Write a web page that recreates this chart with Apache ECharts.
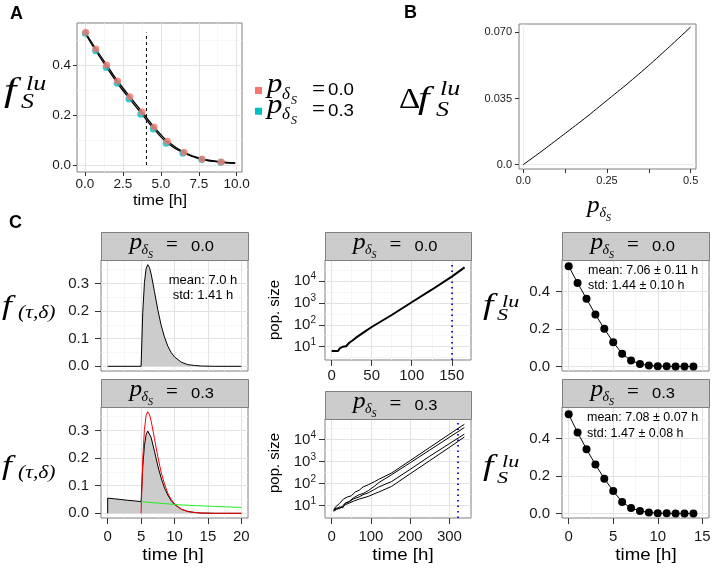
<!DOCTYPE html>
<html><head><meta charset="utf-8">
<script src="https://cdn.jsdelivr.net/npm/echarts@6/dist/echarts.min.js"></script>
<style>html,body{margin:0;padding:0;background:#fff}#c{width:716px;height:570px}</style>
</head><body><div id="c"></div><script>
// ===== DATA =====
// Panel A
const aTimePink = [0.05, 0.72, 1.43, 2.15, 2.96, 3.77, 4.56, 5.44, 6.53, 7.72, 8.99];
const aFracPink = [0.531, 0.464, 0.400, 0.336, 0.273, 0.212, 0.152, 0.095, 0.051, 0.024, 0.012];
const aTimeTeal = [0.02, 0.70, 1.40, 2.12, 2.90, 3.68, 4.50, 5.35, 6.45, 7.70, 8.95];
const aFracTeal = [0.527, 0.457, 0.390, 0.327, 0.264, 0.203, 0.144, 0.087, 0.047, 0.022, 0.011];
const aCurveTime = [0, 0.72, 1.43, 2.15, 2.96, 3.77, 4.56, 5.44, 6.53, 7.72, 8.99, 9.9];
const aCurve1 = [0.533, 0.464, 0.400, 0.336, 0.273, 0.212, 0.152, 0.095, 0.051, 0.024, 0.012, 0.008];
const aCurve2 = [0.527, 0.456, 0.390, 0.326, 0.263, 0.202, 0.143, 0.087, 0.047, 0.022, 0.011, 0.007];
const aCutTime = 4.05, aCutTop = 0.53;
const aXTicks = [0, 2.5, 5, 7.5, 10], aXText = ['0.0', '2.5', '5.0', '7.5', '10.0'];
const aYTicks = [0, 0.2, 0.4], aYText = ['0.0', '0.2', '0.4'];
const legendText = ['0.0', '0.3'];
// Panel B
const bP = [0, 0.0625, 0.125, 0.1875, 0.25, 0.3125, 0.375, 0.4375, 0.5];
const bDelta = [0, 0.0081, 0.0165, 0.025, 0.034, 0.043, 0.0525, 0.0625, 0.0728];
const bXTicks = [0, 0.125, 0.25, 0.375, 0.5];
const bXLabVals = [0, 0.25, 0.5], bXText = ['0.0', '0.25', '0.5'];
const bYTicks = [0, 0.035, 0.07], bYText = ['0.0', '0.035', '0.070'];
// Panel C, column 1 (densities)
const cTime = [0, 5, 5.25, 5.5, 5.75, 6, 6.25, 6.5, 7, 7.5, 8, 8.5, 9, 9.5, 10, 11, 12, 13, 14, 16, 20];
const cDens0 = [0, 0, 0.195, 0.303, 0.354, 0.368, 0.358, 0.335, 0.271, 0.205, 0.149, 0.106, 0.073, 0.050, 0.034, 0.015, 0.006, 0.003, 0.001, 0, 0];
const cTimeMix = [0, 0, 1, 2, 3, 4, 5, 5.25, 5.5, 5.75, 6, 6.25, 6.5, 7, 7.5, 8, 8.5, 9, 9.5, 10, 11, 12, 13, 14, 16, 20];
const cDensMix = [0, 0.055, 0.0525, 0.050, 0.047, 0.045, 0.042, 0.17, 0.245, 0.285, 0.298, 0.293, 0.275, 0.225, 0.172, 0.128, 0.092, 0.066, 0.046, 0.032, 0.015, 0.007, 0.003, 0.001, 0, 0];
const cTimeGreen = [5, 6, 7, 8, 9, 10, 12, 14, 16, 18, 20];
const cDensGreen = [0.042, 0.040, 0.038, 0.036, 0.034, 0.032, 0.029, 0.027, 0.025, 0.023, 0.021];
const c1XTicks = [0, 5, 10, 15, 20];
const c1YTicks = [0, 0.1, 0.2, 0.3], c1YText = ['0.0', '0.1', '0.2', '0.3'];
// Panel C, column 2 (population size)
const popTime0 = [0, 8, 10, 14, 18, 22, 26, 30, 40, 50, 75, 100, 125, 150, 166];
const popSize0 = [6.3, 6.3, 8.3, 10, 10.5, 15, 19, 25, 45, 79, 280, 1070, 4000, 15800, 42000];
const popTimeA = [5, 10, 15, 20, 25, 30, 35, 40, 50, 60, 70, 80, 93, 110, 120, 153, 200, 250, 300, 338];
const popSizeA = [6.3, 8.9, 7.9, 12.6, 11.2, 20, 17.8, 25, 28, 42, 50, 71, 89, 126, 158, 309, 1120, 4470, 17800, 50100];
const popTimeB = [5, 12, 20, 28, 35, 45, 55, 70, 80, 93, 110, 120, 153, 200, 250, 300, 338];
const popSizeB = [6.0, 7.1, 8.9, 7.9, 12.6, 15.8, 22.4, 31.6, 35.5, 47.9, 79.4, 112, 257, 891, 3390, 12900, 35500];
const popSizeC = [6.3, 7.9, 7.1, 10, 13.2, 15.1, 20, 25.1, 31.6, 38, 56.2, 70.8, 126, 447, 1780, 6610, 17800];
const popSizeD = [5.6, 6.6, 7.9, 8.9, 11.2, 13.2, 15.8, 20, 22.4, 26.3, 35.5, 41.7, 75.9, 282, 1120, 4470, 13200];
const popStop0 = 150, popStop3 = 321;
const c2YTicks = [1, 2, 3, 4];
const c2XTicks0 = [0, 50, 100, 150], c2XTicks3 = [0, 100, 200, 300];
// Panel C, column 3 (simulated f_S^lu)
const c3Time = [0, 1, 2, 3, 4, 5, 6, 7, 8, 9, 10, 11, 12, 13, 14];
const c3Frac0 = [0.535, 0.446, 0.361, 0.277, 0.201, 0.130, 0.068, 0.032, 0.014, 0.005, 0.002, 0.001, 0, 0, 0];
const c3Frac3 = [0.529, 0.432, 0.343, 0.261, 0.186, 0.120, 0.061, 0.029, 0.014, 0.005, 0.002, 0.001, 0, 0, 0];
const c3XTicks = [0, 5, 10, 15];
const c3YTicks = [0, 0.2, 0.4], c3YText = ['0.0', '0.2', '0.4'];
const stripValues = ['0.0', '0.3'];
const statsC1 = ['mean: 7.0 h', 'std: 1.41 h'];
const statsC3a = ['mean: 7.06 \u00b1 0.11 h', 'std: 1.44 \u00b1 0.10 h'];
const statsC3b = ['mean: 7.08 \u00b1 0.07 h', 'std: 1.47 \u00b1 0.08 h'];
// grid breaks
const gA = {xM: [0, 2.5, 5, 7.5, 10], xm: [1.25, 3.75, 6.25, 8.75], yM: [0, 0.2, 0.4], ym: [0.1, 0.3, 0.5]};
const gC1 = {xM: [0, 5, 10, 15, 20], xm: [2.5, 7.5, 12.5, 17.5], yM: [0, 0.1, 0.2, 0.3], ym: [0.05, 0.15, 0.25, 0.35]};
const gC2a = {xM: [0, 50, 100, 150], xm: [25, 75, 125], yM: [1, 2, 3, 4], ym: [0.5, 1.5, 2.5, 3.5, 4.5]};
const gC2b = {xM: [0, 100, 200, 300], xm: [50, 150, 250], yM: [1, 2, 3, 4], ym: [0.5, 1.5, 2.5, 3.5, 4.5]};
const gC3 = {xM: [0, 5, 10, 15], xm: [2.5, 7.5, 12.5], yM: [0, 0.2, 0.4], ym: [0.1, 0.3, 0.5]};
const gB = {xM: [0], xm: [], yM: [0], ym: []};

// ===== BUILD =====
const SANS = 'Liberation Sans', SERIF = 'Liberation Serif';
const zip = (xs, ys) => xs.map((x, i) => [x, ys[i]]);
const lookup = (vals, texts) => v => { const i = vals.findIndex(u => Math.abs(u - v) < 1e-9); return i >= 0 ? texts[i] : ''; };
const grids = [], xAxes = [], yAxes = [], series = [], graphics = [];

function mkAxis(gi, a, pos) {
  return {
    type: 'value', gridIndex: gi, position: pos, min: a.min, max: a.max,
    axisLine: {show: false, onZero: false}, splitLine: {show: false},
    axisTick: {show: !!a.ticks, customValues: a.ticks || [], length: a.tickLen || 4, lineStyle: {color: '#333', width: 1}},
    axisLabel: {show: !!a.labs, customValues: a.labs || [], formatter: a.fmt, fontSize: a.size || 15,
      fontFamily: SANS, color: '#1a1a1a', margin: a.margin || 6, rich: a.rich, hideOverlap: false}
  };
}
function panel(box, x, y, g, gridColor) {
  const gi = grids.length;
  grids.push(Object.assign({show: true, borderColor: '#7f7f7f', borderWidth: 1, backgroundColor: 'transparent'}, box));
  xAxes.push(mkAxis(gi, x, 'bottom'));
  yAxes.push(mkAxis(gi, y, 'left'));
  const mk = [];
  const cM = gridColor || '#e3e3e3', cm = '#f3f3f3';
  g.xm.forEach(v => mk.push({xAxis: v, lineStyle: {color: cm, width: 0.7, type: 'solid'}}));
  g.ym.forEach(v => mk.push({yAxis: v, lineStyle: {color: cm, width: 0.7, type: 'solid'}}));
  g.xM.forEach(v => mk.push({xAxis: v, lineStyle: {color: cM, width: 1, type: 'solid'}}));
  g.yM.forEach(v => mk.push({yAxis: v, lineStyle: {color: cM, width: 1, type: 'solid'}}));
  series.push({type: 'line', xAxisIndex: gi, yAxisIndex: gi, data: [], z: 1, silent: true,
    markLine: {silent: true, symbol: ['none', 'none'], label: {show: false}, animation: false, data: mk}});
  return gi;
}
function line(gi, data, opt) {
  return Object.assign({type: 'line', xAxisIndex: gi, yAxisIndex: gi, data, symbol: 'none', z: 10, silent: true,
    animation: false, lineStyle: {color: '#000', width: 1}}, opt || {});
}
function txt(str, x, base, size, o) {
  o = o || {};
  return {type: 'text', silent: true, x: x, y: base - 0.34 * size, rotation: o.rot || 0, scaleX: o.sx || 1, z: 50,
    style: {text: str, x: 0, y: 0, fontSize: size, fontFamily: o.serif ? SERIF : SANS,
      fontStyle: o.italic ? 'italic' : 'normal', fontWeight: o.bold ? 'bold' : 'normal',
      fill: o.color || '#000', align: o.align || 'left', verticalAlign: 'middle'}};
}
function pdelta(x, base, val, s) {
  // p_{delta_S} = val
  return [
    txt('p', x, base, s.p, {serif: true, italic: true, sx: 1.1}),
    txt('\u03b4', x + s.dx1, base + s.dy1, s.d, {serif: true, italic: true}),
    txt('S', x + s.dx2, base + s.dy2, s.s, {serif: true, italic: true}),
    txt('=', x + s.dx3, base + s.dy3, s.eq, {serif: true}),
    txt(val, x + s.dx4, base + s.dy4, s.v, {sx: 1.1})
  ];
}
function strip(x0, x1, y0, y1, val) {
  graphics.push({type: 'rect', silent: true, z: 40, shape: {x: x0 + 0.5, y: y0 + 0.5, width: x1 - x0, height: y1 - y0},
    style: {fill: '#cccccc', stroke: '#7f7f7f', lineWidth: 1}});
  const cx = (x0 + x1) / 2, cy = (y0 + y1) / 2;
  pdelta(cx - 45, cy + 4.5, val, {p: 23, d: 14, s: 10, eq: 21, v: 15, dx1: 12, dy1: 4.5, dx2: 18.5, dy2: 8.5,
    dx3: 36.5, dy3: 2, dx4: 61.5, dy4: 1.5}).forEach(e => graphics.push(e));
}
function fSlu(x, base, sz) {
  return [
    txt('f', x, base, sz.f, {serif: true, italic: true, sx: 1.3}),
    txt('lu', x + sz.lx, base + sz.ly, sz.sub, {serif: true, italic: true, sx: 1.3}),
    txt('S', x + sz.sx, base + sz.sy, sz.sub, {serif: true, italic: true, sx: 1.3})
  ];
}

// ---- Panel A ----
const gAidx = panel({left: 77, top: 23, width: 165, height: 149},
  {min: -0.527, max: 10.35, ticks: aXTicks, labs: aXTicks, fmt: lookup(aXTicks, aXText), size: 13.5, margin: 5},
  {min: -0.028, max: 0.568, ticks: aYTicks, labs: aYTicks, fmt: lookup(aYTicks, aYText), size: 13.5, margin: 6}, gA);
series.push(line(gAidx, zip(aCurveTime, aCurve2), {smooth: 0.3, lineStyle: {color: '#000', width: 1.3}}));
series.push(line(gAidx, zip(aCurveTime, aCurve1), {smooth: 0.3, lineStyle: {color: '#000', width: 1.3}}));
series.push(line(gAidx, [[aCutTime, 0], [aCutTime, aCutTop]], {lineStyle: {color: '#000', width: 1, type: [3, 3]}}));
series.push({type: 'scatter', xAxisIndex: gAidx, yAxisIndex: gAidx, data: zip(aTimeTeal, aFracTeal), symbolSize: 7,
  itemStyle: {color: '#00BFC4'}, z: 11, silent: true, animation: false});
series.push({type: 'scatter', xAxisIndex: gAidx, yAxisIndex: gAidx, data: zip(aTimePink, aFracPink), symbolSize: 7,
  itemStyle: {color: '#F8766D'}, z: 12, silent: true, animation: false});

// ---- Panel B ----
const gBidx = panel({left: 519, top: 24, width: 177, height: 145},
  {min: -0.0128, max: 0.516, ticks: bXTicks, labs: bXLabVals, fmt: lookup(bXLabVals, bXText), size: 11, margin: 6},
  {min: -0.0023, max: 0.0744, ticks: bYTicks, labs: bYTicks, fmt: lookup(bYTicks, bYText), size: 11, margin: 7}, gB, '#ededed');
series.push(line(gBidx, zip(bP, bDelta), {smooth: 0.2, lineStyle: {color: '#000', width: 1}}));

// ---- Panel C ----
const logRich = {b: {fontSize: 15, fontFamily: SANS, color: '#1a1a1a'},
  s: {fontSize: 10, fontFamily: SANS, color: '#1a1a1a', padding: [0, 0, 9, 0]}};
const logFmt = v => '{b|10}{s|' + Math.round(v) + '}';
const c1y = {min: -0.017, max: 0.385, ticks: c1YTicks, labs: c1YTicks, fmt: lookup(c1YTicks, c1YText), margin: 12, tickLen: 6};
const c1 = panel({left: 101, top: 260, width: 147, height: 111}, {min: -1, max: 21}, c1y, gC1);
const c4 = panel({left: 101, top: 407, width: 147, height: 111},
  {min: -1, max: 21, ticks: c1XTicks, labs: c1XTicks, fmt: v => String(v), margin: 11, tickLen: 6}, c1y, gC1);
const c2 = panel({left: 325, top: 260, width: 146, height: 100},
  {min: -8.3, max: 174, ticks: c2XTicks0, labs: c2XTicks0, fmt: v => String(v), margin: 8, tickLen: 6},
  {min: 0.39, max: 4.96, ticks: c2YTicks, labs: c2YTicks, fmt: logFmt, rich: logRich, margin: 9, tickLen: 6}, gC2a);
const c5 = panel({left: 325, top: 419, width: 146, height: 99},
  {min: -17, max: 355, ticks: c2XTicks3, labs: c2XTicks3, fmt: v => String(v), margin: 11, tickLen: 6},
  {min: 0.44, max: 4.94, ticks: c2YTicks, labs: c2YTicks, fmt: logFmt, rich: logRich, margin: 9, tickLen: 6}, gC2b);
const c3y = {min: -0.024, max: 0.568, ticks: c3YTicks, labs: c3YTicks, fmt: lookup(c3YTicks, c3YText), margin: 12, tickLen: 6};
const c3 = panel({left: 562, top: 260, width: 147, height: 111}, {min: -0.75, max: 15.75}, c3y, gC3);
const c6 = panel({left: 562, top: 407, width: 147, height: 111},
  {min: -0.75, max: 15.75, ticks: c3XTicks, labs: c3XTicks, fmt: v => String(v), margin: 11, tickLen: 6}, c3y, gC3);

const grayArea = {areaStyle: {color: '#cccccc', opacity: 1, origin: 0}, lineStyle: {color: '#000', width: 1}};
series.push(line(c1, zip(cTime, cDens0), grayArea));
series.push(line(c4, zip(cTimeMix, cDensMix), grayArea));
series.push(line(c4, zip(cTime.slice(1), cDens0.slice(1)), {lineStyle: {color: '#ff0000', width: 1}, z: 11}));
series.push(line(c4, zip(cTimeGreen, cDensGreen), {lineStyle: {color: '#22ee22', width: 1}, z: 12}));

const lg = (ts, ps) => ts.map((t, i) => [t, Math.log10(ps[i])]);
series.push(line(c2, lg(popTime0, popSize0), {lineStyle: {color: '#000', width: 2}}));
series.push(line(c5, lg(popTimeA, popSizeA), {lineStyle: {color: '#000', width: 1}}));
[popSizeB, popSizeC, popSizeD].forEach(p => series.push(line(c5, lg(popTimeB, p), {lineStyle: {color: '#000', width: 1}})));
const blueDot = v => ({symbol: ['none', 'none'], silent: true, label: {show: false}, animation: false,
  lineStyle: {color: '#2020d0', width: 2, type: [1.5, 4]}, data: [{xAxis: v}]});
series.push({type: 'line', xAxisIndex: c2, yAxisIndex: c2, data: [], z: 13, markLine: blueDot(popStop0)});
series.push({type: 'line', xAxisIndex: c5, yAxisIndex: c5, data: [], z: 13, markLine: blueDot(popStop3)});

const dots = {symbol: 'circle', symbolSize: 8, showSymbol: true, itemStyle: {color: '#000'}, lineStyle: {color: '#000', width: 1}};
series.push(line(c3, zip(c3Time, c3Frac0), dots));
series.push(line(c6, zip(c3Time, c3Frac3), dots));

// ---- graphics ----
graphics.push(txt('A', 10, 20, 18, {bold: true}));
graphics.push(txt('B', 404, 19, 18, {bold: true}));
graphics.push(txt('C', 9, 229, 18, {bold: true}));
// panel A labels
fSlu(4, 104, {f: 34, sub: 20, lx: 22, ly: -12, sx: 17, sy: 6}).forEach(e => graphics.push(e));
graphics.push(txt('time [h]', 160, 206, 15, {align: 'center', sx: 1.1}));
// legend
[['#F8766D', 0], ['#00BFC4', 1]].forEach(([col, i]) => {
  const dy = i * 20.7;
  graphics.push({type: 'rect', silent: true, shape: {x: 255, y: 87 + dy, width: 7, height: 7}, style: {fill: col}});
  pdelta(267, 94.5 + dy, legendText[i], {p: 28, d: 17, s: 12, eq: 23, v: 17, dx1: 15, dy1: 5.5, dx2: 24, dy2: 10,
    dx3: 45, dy3: 3, dx4: 61, dy4: 2}).forEach(e => graphics.push(e));
});
// panel B labels
graphics.push(txt('\u0394', 399, 110, 30, {serif: true, sx: 1.1}));
fSlu(418, 110, {f: 32, sub: 20, lx: 22, ly: -13, sx: 18, sy: 8}).forEach(e => graphics.push(e));
graphics.push(txt('p', 587, 214, 23, {serif: true, italic: true, sx: 1.1}));
graphics.push(txt('\u03b4', 599.5, 218.5, 14, {serif: true, italic: true}));
graphics.push(txt('S', 606, 222, 10, {serif: true, italic: true}));
// strips
strip(101, 248, 232, 260, stripValues[0]);
strip(101, 248, 379, 407, stripValues[1]);
strip(325, 471, 232, 260, stripValues[0]);
strip(325, 471, 391, 419, stripValues[1]);
strip(562, 709, 232, 260, stripValues[0]);
strip(562, 709, 379, 407, stripValues[1]);
// column 1 y labels
[[316, 317], [476, 477]].forEach(([b1, b2]) => {
  graphics.push(txt('f', 2, b1, 27, {serif: true, italic: true, sx: 1.3}));
  graphics.push(txt('(\u03c4,\u03b4)', 18, b2 + 2, 18, {serif: true, italic: true, sx: 1.2}));
});
// column 2 y labels
graphics.push(Object.assign(txt('pop. size', 0, 0, 15, {align: 'center'}), {x: 275, y: 310, rotation: Math.PI / 2}));
graphics.push(Object.assign(txt('pop. size', 0, 0, 15, {align: 'center'}), {x: 275, y: 463, rotation: Math.PI / 2}));
// column 3 y labels
fSlu(483, 316, {f: 29, sub: 17, lx: 19, ly: -8, sx: 14, sy: 5}).forEach(e => graphics.push(e));
fSlu(483, 477, {f: 29, sub: 17, lx: 19, ly: -9, sx: 14, sy: 7}).forEach(e => graphics.push(e));
// x titles
graphics.push(txt('time [h]', 173, 561, 17, {align: 'center', sx: 1.1}));
graphics.push(txt('time [h]', 403, 561, 17, {align: 'center', sx: 1.1}));
graphics.push(txt('time [h]', 646, 561, 17, {align: 'center', sx: 1.1}));
// stats
graphics.push(txt(statsC1[0], 203, 285, 13, {align: 'center'}));
graphics.push(txt(statsC1[1], 203, 300, 13, {align: 'center'}));
graphics.push(txt(statsC3a[0], 588, 275, 12.5));
graphics.push(txt(statsC3a[1], 588, 290, 12.5));
graphics.push(txt(statsC3b[0], 587, 422, 12.5));
graphics.push(txt(statsC3b[1], 587, 438, 12.5));

const chart = echarts.init(document.getElementById('c'), null, {renderer: 'canvas'});
chart.setOption({animation: false, backgroundColor: '#fff', grid: grids, xAxis: xAxes, yAxis: yAxes, series, graphic: graphics});
</script></body></html>
